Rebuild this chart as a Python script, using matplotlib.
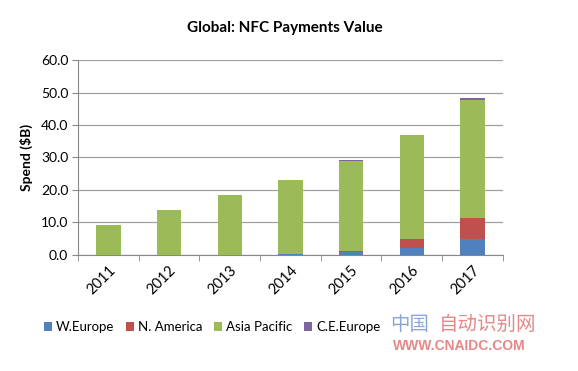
import numpy as np
import matplotlib.pyplot as plt

plt.rcParams['font.family'] = ['Lato', 'DejaVu Sans']

# Data (spend in $B)
years = ['2011', '2012', '2013', '2014', '2015', '2016', '2017']
w_europe = [0.0, 0.0, 0.0, 0.3, 0.9, 2.0, 4.9]
n_america = [0.0, 0.0, 0.0, 0.0, 0.4, 2.9, 6.5]
asia_pacific = [9.3, 13.7, 18.4, 22.9, 27.5, 31.9, 36.4]
ce_europe = [0.0, 0.0, 0.0, 0.0, 0.3, 0.1, 0.5]

series = [
    ('W.Europe', w_europe, '#4F81BD'),
    ('N. America', n_america, '#C0504D'),
    ('Asia Pacific', asia_pacific, '#9BBB59'),
    ('C.E.Europe', ce_europe, '#8064A2'),
]

fig = plt.figure(figsize=(5.78, 3.71), dpi=100)
ax = fig.add_axes([0.135, 0.313, 0.735, 0.525])

x = np.arange(len(years))
bottom = np.zeros(len(years))
for name, vals, color in series:
    vals = np.array(vals)
    ax.bar(x, vals, width=0.4, bottom=bottom, color=color, label=name, zorder=3)
    bottom += vals

ax.set_xlim(-0.5, len(years) - 0.5)
ax.set_ylim(0, 60)
ax.set_yticks(np.arange(0, 61, 10))
ax.set_yticklabels([f'{v:.1f}' for v in np.arange(0, 61, 10)], fontsize=10)
ax.yaxis.grid(True, color='#A0A0A0', linewidth=0.9, zorder=0)

# category labels rotated, tick marks between categories
ax.set_xticks(x)
ax.set_xticklabels(years, fontsize=10.5, rotation=45, ha='right', va='top',
                   rotation_mode='anchor')
ax.tick_params(axis='x', which='major', length=0, pad=6)
ax.set_xticks(np.arange(-0.5, len(years)), minor=True)
ax.tick_params(axis='x', which='minor', length=4, color='#888888')
ax.tick_params(axis='y', length=4, color='#888888', pad=3)

for side in ['top', 'right']:
    ax.spines[side].set_visible(False)
ax.spines['left'].set_color('#888888')
ax.spines['bottom'].set_color('#888888')

ax.set_ylabel('Spend ($B)', fontsize=10, fontweight='bold', labelpad=6)
fig.text(0.493, 0.925, 'Global: NFC Payments Value', ha='center', va='center',
         fontsize=11, fontweight='bold')

fig.legend(loc='center left', bbox_to_anchor=(0.055, 0.118), ncol=4,
           frameon=False, fontsize=9.5, handlelength=0.6, handleheight=0.6,
           handletextpad=0.3, columnspacing=0.9)

# watermark
fig.text(0.675, 0.125, '中国', color='#6F8FD0', fontsize=14, ha='left', va='center',
         family=['Noto Sans CJK SC', 'DejaVu Sans'], alpha=0.8)
fig.text(0.76, 0.125, '自动识别网', color='#E06A6A', fontsize=14, ha='left', va='center',
         family=['Noto Sans CJK SC', 'DejaVu Sans'], alpha=0.8)
fig.text(0.795, 0.068, 'WWW.CNAIDC.COM', color='#E06A6A', fontsize=10, ha='center',
         va='center', fontweight='bold', family=['Liberation Sans'], alpha=0.8)

fig.savefig('out.png', dpi=100)
